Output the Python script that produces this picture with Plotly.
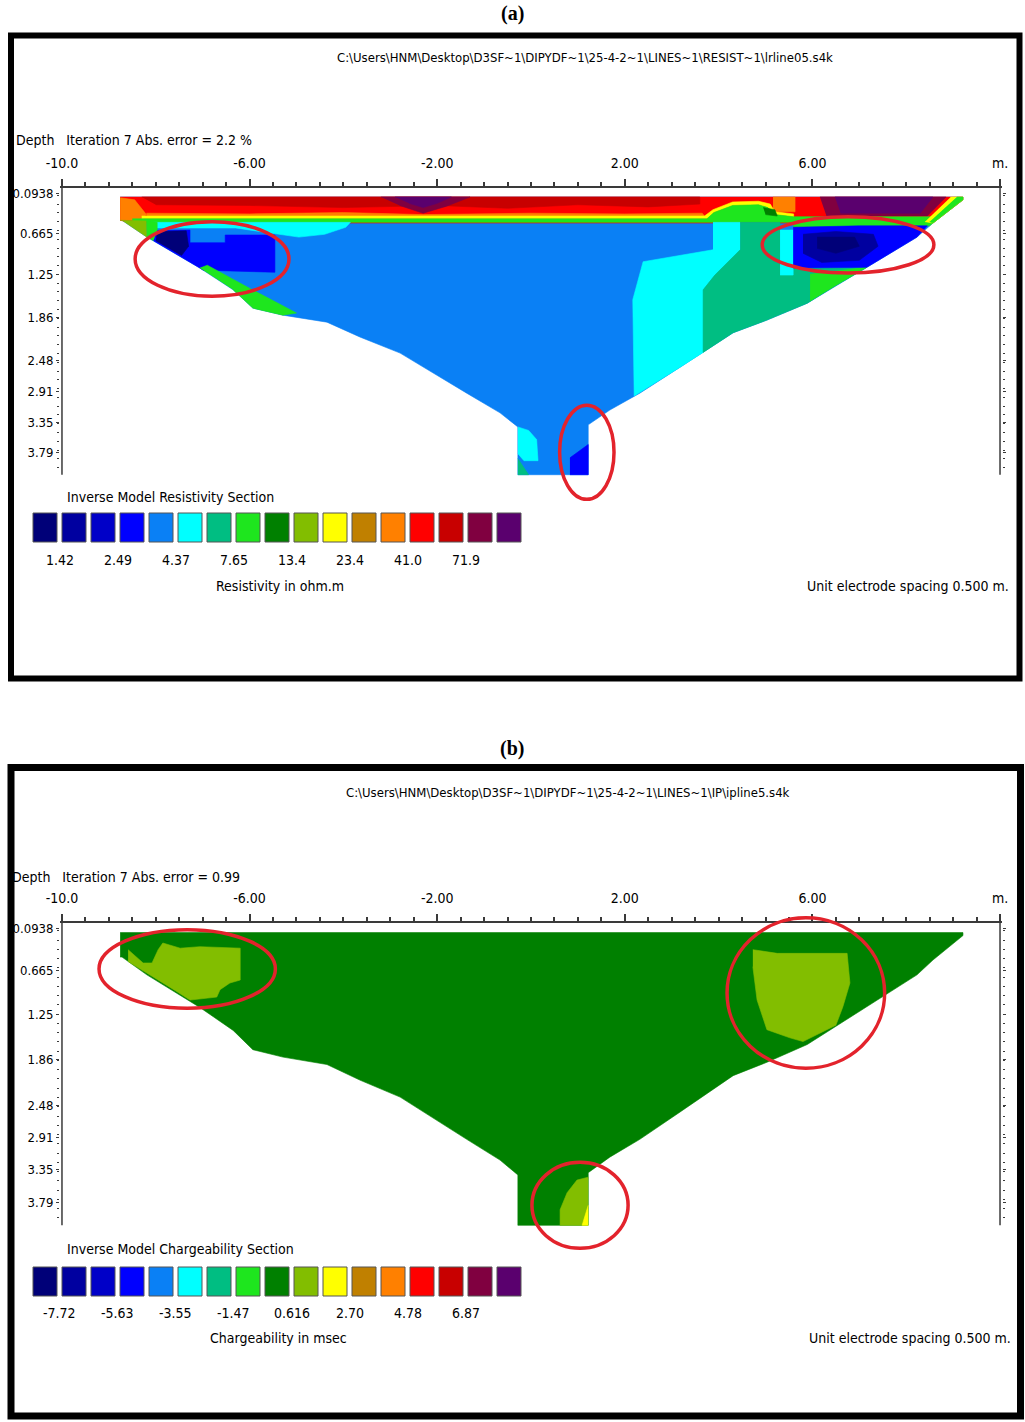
import plotly.graph_objects as go

W, H = 1025, 1422
FONT = "Liberation Sans Narrow, DejaVu Sans Condensed, Arial Narrow, DejaVu Sans Mono, sans-serif"
SERIF = "Liberation Serif, Times New Roman, serif"

# ---------------- colour scale (17 classes) ----------------
PALETTE = ["#000078", "#0000A0", "#0000C8", "#0000FF", "#0A80F5", "#00FFFF",
           "#00BE82", "#1EE61E", "#008000", "#82BE00", "#FFFF00", "#C08000",
           "#FF8000", "#FF0000", "#C80000", "#800040", "#5A006E"]

res_contour_labels = ["1.42", "2.49", "4.37", "7.65", "13.4", "23.4", "41.0", "71.9"]
ip_contour_labels = ["-7.72", "-5.63", "-3.55", "-1.47", "0.616", "2.70", "4.78", "6.87"]

x_tick_vals = [-10, -6, -2, 2, 6, 10]
x_tick_text = ["-10.0", "-6.00", "-2.00", "2.00", "6.00", "m."]
depth_tick_vals = [0.0938, 0.665, 1.25, 1.86, 2.48, 2.91, 3.35, 3.79]
depth_tick_text = ["0.0938", "0.665", "1.25", "1.86", "2.48", "2.91", "3.35", "3.79"]

# ---------------- model section outline (x in m, depth in m) ----------------
section_x = [-8.76, 9.21, 9.21, 8.57, 8.23, 7.16, 6.44, 5.89, 5.03, 4.31, 3.18, 2.32, 1.68, 1.22,
             1.22, -0.28, -0.28, -0.66, -1.37, -2.09, -2.79, -3.65, -4.35, -5.29, -5.93, -6.35,
             -7.06, -8.19, -8.72, -8.76]
section_depth = [0.15, 0.15, 0.19, 0.52, 0.72, 1.15, 1.43, 1.66, 1.90, 2.08, 2.57, 2.94, 3.18, 3.39,
                 4.10, 4.10, 3.42, 3.22, 2.94, 2.65, 2.37, 2.14, 1.93, 1.83, 1.73, 1.47,
                 1.16, 0.72, 0.48, 0.48]

# ---------------- (a) resistivity zones: colour class, x, depth ----------------
res_band_red = dict(cls=13, x=[-8.76, 9.21, 9.21, 8.57, -8.5, -8.72, -8.76],
                    d=[0.15, 0.15, 0.19, 0.52, 0.52, 0.48, 0.48])
res_band_darkred = dict(cls=14, x=[-8.3, 3.6, 3.6, 2.5, 1.0, -0.5, -2.0, -4.0, -6.0, -8.0],
                        d=[0.15, 0.15, 0.25, 0.29, 0.26, 0.31, 0.27, 0.30, 0.27, 0.26])
res_band_maroon_mid = dict(cls=15, x=[-3.2, -1.3, -1.8, -2.3, -2.8], d=[0.15, 0.15, 0.28, 0.38, 0.27])
res_band_purple_mid = dict(cls=16, x=[-2.9, -1.7, -2.0, -2.3, -2.6], d=[0.15, 0.15, 0.24, 0.30, 0.24])
res_band_orange_left = dict(cls=12, x=[-8.76, -8.45, -8.2, -8.3, -8.76], d=[0.16, 0.19, 0.40, 0.48, 0.48])
res_band_orange_block = dict(cls=12, x=[5.16, 5.63, 5.63, 5.16], d=[0.15, 0.15, 0.36, 0.36])
res_band_maroon_right = dict(cls=15, x=[6.16, 8.85, 8.45, 6.3], d=[0.15, 0.15, 0.42, 0.42])
res_band_purple_right = dict(cls=16, x=[6.48, 8.57, 8.3, 6.6], d=[0.15, 0.15, 0.38, 0.38])
res_band_orange_line = dict(cls=12, x=[-8.2, -6.0, -4.0, -2.3, 0.0, 2.0, 3.65, 3.7, -8.2],
                            d=[0.38, 0.39, 0.37, 0.40, 0.38, 0.39, 0.38, 0.42, 0.42])
res_band_yellow = dict(cls=10,
                       x=[-8.3, 3.7, 3.88, 4.3, 4.85, 5.1, 5.2, 5.6, 5.6, 5.2, 5.05, 4.85, 4.3, 3.9, 3.75, -8.3],
                       d=[0.42, 0.42, 0.33, 0.22, 0.21, 0.25, 0.36, 0.39, 0.43, 0.40, 0.30, 0.26, 0.27, 0.37, 0.46, 0.46])
res_band_green = dict(cls=7,
                      x=[-8.5, 3.75, 3.9, 4.3, 4.85, 5.05, 5.2, 5.6, 8.72, 8.57, 8.5, 5.6, 5.6, -8.5],
                      d=[0.46, 0.46, 0.37, 0.27, 0.26, 0.30, 0.40, 0.43, 0.43, 0.52, 0.56, 0.58, 0.51, 0.51])
res_band_darkgreen = dict(cls=8, x=[4.95, 5.2, 5.25, 5.0], d=[0.30, 0.33, 0.42, 0.40])
res_edge_yellow = dict(cls=10, x=[8.95, 9.21, 9.21, 8.57, 8.4], d=[0.15, 0.15, 0.19, 0.52, 0.50])
res_edge_green = dict(cls=7, x=[9.08, 9.21, 9.21, 8.57, 8.5], d=[0.15, 0.15, 0.19, 0.52, 0.50])
res_cyan_left = dict(cls=5, x=[-8.1, -3.85, -3.95, -4.4, -4.95, -5.6, -6.3, -8.1],
                     d=[0.51, 0.51, 0.58, 0.68, 0.72, 0.66, 0.59, 0.59])
res_yg_wedge = dict(cls=9, x=[-8.76, -8.2, -8.19, -8.72], d=[0.48, 0.49, 0.72, 0.48])
res_lime_leftedge = dict(cls=7, x=[-8.2, -7.97, -7.97, -8.05, -8.19], d=[0.49, 0.51, 0.64, 0.77, 0.72])
res_blue_left = dict(cls=3, x=[-7.97, -7.27, -7.27, -6.52, -6.52, -5.46, -5.46, -6.99, -7.06, -8.05],
                     d=[0.63, 0.62, 0.80, 0.80, 0.69, 0.69, 1.22, 1.19, 1.16, 0.77])
res_navy_left = dict(cls=0, x=[-7.97, -7.35, -7.3, -7.45, -8.0], d=[0.64, 0.63, 0.85, 0.98, 0.77])
res_lime_leftslope = dict(cls=7, x=[-7.06, -6.9, -6.05, -5.0, -5.29, -5.93, -6.35],
                          d=[1.16, 1.12, 1.43, 1.80, 1.83, 1.73, 1.47])
res_cyan_mid = dict(cls=5, x=[3.88, 4.46, 4.46, 3.92, 3.67, 3.67, 3.18, 2.32, 2.2, 2.17, 2.39, 3.88],
                    d=[0.51, 0.51, 0.90, 1.26, 1.47, 2.36, 2.57, 2.94, 2.98, 1.61, 1.07, 0.90])
res_teal = dict(cls=6, x=[4.46, 5.31, 5.31, 5.59, 5.59, 7.16, 6.44, 5.89, 5.03, 4.31, 3.67, 3.67, 3.92, 4.46],
                d=[0.51, 0.51, 1.26, 1.26, 1.16, 1.15, 1.43, 1.66, 1.90, 2.08, 2.36, 1.47, 1.26, 0.90])
res_lime_rightwedge = dict(cls=7, x=[5.95, 7.16, 6.44, 5.95], d=[1.25, 1.15, 1.43, 1.63])
res_cyan_strip = dict(cls=5, x=[5.31, 5.59, 5.59, 5.31], d=[0.62, 0.62, 1.26, 1.26])
res_blue_right = dict(cls=3, x=[5.59, 7.0, 8.45, 8.23, 7.16, 5.59], d=[0.58, 0.56, 0.56, 0.72, 1.15, 1.16])
res_dkblue_right = dict(cls=1, x=[5.8, 6.5, 7.3, 7.4, 7.0, 6.2, 5.8], d=[0.68, 0.64, 0.68, 0.85, 1.05, 1.08, 0.95])
res_navy_right = dict(cls=0, x=[6.1, 6.9, 7.0, 6.5, 6.1], d=[0.72, 0.72, 0.85, 0.95, 0.88])
res_cyan_col = dict(cls=5, x=[-0.28, -0.05, 0.12, 0.15, -0.15, -0.28], d=[3.42, 3.47, 3.60, 3.90, 3.90, 3.80])
res_teal_col = dict(cls=6, x=[-0.28, -0.05, -0.28], d=[3.87, 4.10, 4.10])
res_blue_col = dict(cls=3, x=[0.83, 1.22, 1.22, 0.83], d=[3.86, 3.67, 4.10, 4.10])

RES_ZONES = [res_band_red, res_band_darkred, res_band_maroon_mid, res_band_purple_mid,
             res_band_orange_left, res_band_orange_block, res_band_maroon_right, res_band_purple_right,
             res_band_orange_line, res_band_yellow, res_band_green, res_band_darkgreen,
             res_edge_yellow, res_edge_green, res_cyan_left, res_yg_wedge, res_lime_leftedge,
             res_blue_left, res_navy_left, res_lime_leftslope, res_cyan_mid, res_teal,
             res_lime_rightwedge, res_cyan_strip, res_blue_right, res_dkblue_right, res_navy_right,
             res_cyan_col, res_teal_col, res_blue_col]

# ---------------- (b) chargeability zones ----------------
ip_yg_left = dict(cls=9, x=[-8.59, -8.27, -8.08, -7.95, -7.85, -7.48, -7.06, -6.20, -6.20, -6.42, -6.63,
                            -6.70, -7.27, -7.59, -8.59],
                  d=[0.38, 0.56, 0.56, 0.38, 0.29, 0.36, 0.34, 0.36, 0.79, 0.83, 0.92, 1.02, 1.06, 0.93, 0.54])
ip_yg_right = dict(cls=9, x=[4.73, 5.25, 6.74, 6.80, 6.65, 6.5, 5.80, 5.52, 5.03, 4.82, 4.73],
                   d=[0.38, 0.43, 0.43, 0.83, 1.15, 1.40, 1.62, 1.57, 1.46, 1.06, 0.61])
ip_yg_col = dict(cls=9, x=[1.22, 0.98, 0.77, 0.62, 0.62, 1.22], d=[3.45, 3.49, 3.66, 3.89, 4.10, 4.10])
ip_yellow_col = dict(cls=10, x=[1.22, 1.09, 1.22], d=[3.83, 4.10, 4.10])

IP_ZONES = [ip_yg_left, ip_yg_right, ip_yg_col, ip_yellow_col]

# highlight ellipses (x0, x1, depth0, depth1)
res_ellipses = [(-8.44, -5.16, 0.50, 1.56), (4.93, 8.59, 0.43, 1.23), (0.61, 1.77, 3.11, 4.45)]
ip_ellipses = [(-9.21, -5.45, 0.11, 1.17), (4.18, 7.54, -0.05, 1.98), (0.02, 2.07, 3.25, 4.41)]

# ---------------- figure ----------------
fig = go.Figure()


def add_zone(zone, xa, ya):
    c = PALETTE[zone["cls"]]
    fig.add_trace(go.Scatter(x=zone["x"], y=zone["d"], mode="lines", fill="toself", fillcolor=c,
                             line=dict(color=c, width=0.6), hoverinfo="skip", showlegend=False,
                             xaxis=xa, yaxis=ya))


add_zone(dict(cls=4, x=section_x, d=section_depth), "x", "y")
for z in RES_ZONES:
    add_zone(z, "x", "y")
add_zone(dict(cls=8, x=section_x, d=section_depth), "x2", "y2")
for z in IP_ZONES:
    add_zone(z, "x2", "y2")


def px(v):
    return v / W


def py(v):
    return 1 - v / H


# panel geometry (pixels): depth 0 line position and px per metre
PANELS = [dict(top=186.5, scale=70.3), dict(top=921.5, scale=74.1)]
D_MIN, D_MAX = -0.12, 4.5
XDOM = [px(60.1), px(1001.9)]

xtickfont = dict(family=FONT, size=14, color="black")
ytickfont = dict(family=FONT, size=13, color="black")
for i, p in enumerate(PANELS):
    sfx = "" if i == 0 else "2"
    ytop = p["top"] + D_MIN * p["scale"]
    ybot = p["top"] + D_MAX * p["scale"]
    fig.layout["xaxis" + sfx] = dict(
        domain=XDOM, range=[-10.04, 10.04], anchor="free", position=py(p["top"]), side="top",
        automargin=False,
        showline=True, linecolor="#3a3a3a", linewidth=2, ticks="outside", ticklen=7, tickwidth=1.5,
        tickcolor="#3a3a3a", tickmode="array", tickvals=x_tick_vals, ticktext=x_tick_text,
        tickfont=xtickfont, ticklabelstandoff=5, showgrid=False, zeroline=False,
        minor=dict(tickmode="array", tickvals=[v * 0.5 for v in range(-20, 21)], ticks="outside",
                   ticklen=4, tickcolor="#3a3a3a", showgrid=False))
    fig.layout["yaxis" + sfx] = dict(
        domain=[py(ybot), py(ytop)], range=[D_MAX, D_MIN], anchor="x" + sfx, showline=False,
        automargin=False,
        ticks="outside", ticklen=3, tickcolor="#3a3a3a", mirror="ticks", tickmode="array",
        tickvals=depth_tick_vals, ticktext=depth_tick_text, tickfont=ytickfont, showgrid=False,
        zeroline=False,
        minor=dict(tickmode="array", tickvals=[v * 0.125 for v in range(1, 33)], ticks="outside",
                   ticklen=2, tickcolor="#3a3a3a", showgrid=False))

shapes = []
for sfx in ["", "2"]:
    for xv in [-10, 10]:
        shapes.append(dict(type="line", xref="x" + sfx, yref="y" + sfx, x0=xv, x1=xv, y0=0, y1=4.10,
                           line=dict(color="#3a3a3a", width=1.5)))
for sfx, ells in [("", res_ellipses), ("2", ip_ellipses)]:
    for (x0, x1, y0, y1) in ells:
        shapes.append(dict(type="circle", xref="x" + sfx, yref="y" + sfx, x0=x0, x1=x1, y0=y0, y1=y1,
                           line=dict(color="#E3232C", width=3.5)))

# panel borders
shapes.append(dict(type="rect", xref="paper", yref="paper", x0=px(11), x1=px(1019.5), y0=py(678.5),
                   y1=py(35.5), line=dict(color="black", width=6)))
shapes.append(dict(type="rect", xref="paper", yref="paper", x0=px(11), x1=px(1020.5), y0=py(1416),
                   y1=py(767.5), line=dict(color="black", width=7)))

# colour-scale boxes
for ytop_box in [513, 1267]:
    for i, c in enumerate(PALETTE):
        x0 = 33 + 29 * i
        shapes.append(dict(type="rect", xref="paper", yref="paper", x0=px(x0), x1=px(x0 + 24),
                           y0=py(ytop_box + 29), y1=py(ytop_box), fillcolor=c,
                           line=dict(color="#555555", width=1)))

annotations = []


def txt(x, y, s, size=14, xanchor="left", family=FONT):
    annotations.append(dict(x=px(x), y=py(y), xref="paper", yref="paper", text=s, showarrow=False,
                            xanchor=xanchor, yanchor="middle",
                            font=dict(family=family, size=size, color="black")))


txt(512, 14, "<b>(a)</b>", 20, "center", SERIF)
txt(585, 58, r"C:\Users\HNM\Desktop\D3SF~1\DIPYDF~1\25-4-2~1\LINES~1\RESIST~1\lrline05.s4k", 13, "center")
txt(14, 140, "Depth\u00a0\u00a0 Iteration 7 Abs. error = 2.2 %", 14)
txt(65, 497, "Inverse Model Resistivity Section", 14)
for k, lab in enumerate(res_contour_labels):
    txt(59.5 + 58 * k, 560, lab, 14, "center")
txt(280, 586, "Resistivity in ohm.m", 14, "center")
txt(1011, 586, "Unit electrode spacing 0.500 m.", 14, "right")

txt(512, 748, "<b>(b)</b>", 20, "center", SERIF)
txt(568, 792, r"C:\Users\HNM\Desktop\D3SF~1\DIPYDF~1\25-4-2~1\LINES~1\IP\ipline5.s4k", 13, "center")
txt(10, 877, "Depth\u00a0\u00a0 Iteration 7 Abs. error = 0.99", 14)
txt(65, 1249, "Inverse Model Chargeability Section", 14)
for k, lab in enumerate(ip_contour_labels):
    txt(59.5 + 58 * k, 1313, lab, 14, "center")
txt(278, 1338, "Chargeability in msec", 14, "center")
txt(1013, 1338, "Unit electrode spacing 0.500 m.", 14, "right")

fig.update_layout(width=W, height=H, margin=dict(l=0, r=0, t=0, b=0, pad=0), paper_bgcolor="white",
                  plot_bgcolor="rgba(0,0,0,0)", showlegend=False, shapes=shapes,
                  annotations=annotations)

fig.write_html("out.html", config={"displayModeBar": False},
               post_script="document.body.style.margin='0';")
